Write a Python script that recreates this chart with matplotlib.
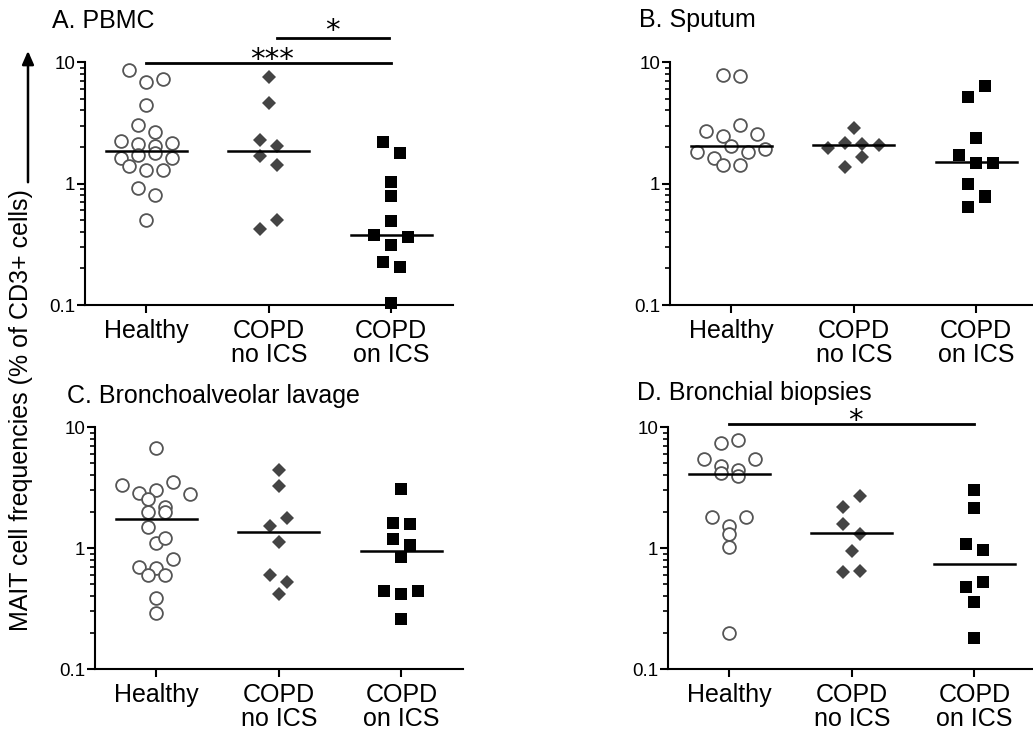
import numpy as np
import matplotlib
matplotlib.use('Agg')
import matplotlib.pyplot as plt
from matplotlib.ticker import LogLocator, NullFormatter

plt.rcParams['font.family'] = ['Liberation Sans', 'DejaVu Sans']

categories = ['Healthy', 'COPD\nno ICS', 'COPD\non ICS']

# values, listed roughly left to right inside each row
pbmc_healthy = [8.55, 6.87, 7.31, 4.42, 3.04, 2.64, 2.25, 2.12, 2.02, 2.15,
                1.62, 1.73, 1.78, 1.62, 1.40, 1.30, 1.30, 0.91, 0.80, 0.50]
pbmc_no_ics = [7.54, 4.56, 2.29, 2.02, 1.67, 1.43, 0.42, 0.50]
pbmc_on_ics = [2.18, 1.78, 1.03, 0.79, 0.49, 0.376, 0.311, 0.364, 0.224, 0.207, 0.103]
pbmc_medians = [1.84, 1.86, 0.376]

sputum_healthy = [7.78, 7.64, 2.73, 2.44, 3.04, 2.55, 1.81, 1.62, 2.02, 1.81, 1.92, 1.41, 1.41]
sputum_no_ics = [2.85, 1.96, 2.15, 2.11, 2.06, 1.37, 1.65]
sputum_on_ics = [5.18, 6.32, 2.36, 1.73, 1.48, 1.48, 0.99, 0.79, 0.64, 0.78]
sputum_medians = [2.04, 2.06, 1.49]

bal_healthy = [6.7, 3.32, 2.86, 3.02, 3.51, 2.81, 2.53, 2.18, 2.0, 2.0,
               1.50, 1.11, 1.22, 0.70, 0.69, 0.81, 0.60, 0.60, 0.39, 0.29]
bal_no_ics = [4.41, 3.25, 1.52, 1.78, 1.13, 0.60, 0.52, 0.42]
bal_on_ics = [3.05, 1.62, 1.57, 1.18, 1.06, 0.84, 0.44, 0.42, 0.44, 0.26]
bal_medians = [1.75, 1.36, 0.94]

biopsy_healthy = [7.38, 7.86, 5.41, 4.73, 4.44, 5.47, 4.20, 3.91, 1.80, 1.52, 1.80, 1.31, 1.02, 0.20]
biopsy_no_ics = [2.17, 2.68, 1.57, 1.31, 0.94, 0.63, 0.65]
biopsy_on_ics = [3.0, 2.15, 1.09, 0.96, 0.48, 0.52, 0.36, 0.18]
biopsy_medians = [4.11, 1.33, 0.74]

styles = [dict(marker='o', ms=9.2, mfc='white', mec='#555555', mew=1.3),
          dict(marker='D', ms=6.8, mfc='#444444', mec='#444444', mew=0),
          dict(marker='s', ms=8.0, mfc='black', mec='black', mew=0)]

fig = plt.figure(figsize=(10.33, 7.4), dpi=100)


def swarm_x(ax, xc, vals, step=17, thr=12):
    # group points of nearly equal height into rows and centre each row
    vals = np.asarray(vals, float)
    pts = ax.transData.transform(np.column_stack([np.full(len(vals), xc), vals]))
    ypx = pts[:, 1]
    order = np.argsort(-vals, kind='stable')
    rows = []
    for i in order:
        if rows and ypx[rows[-1][0]] - ypx[i] < thr:
            rows[-1].append(i)
        else:
            rows.append([i])
    off = np.zeros(len(vals))
    for r in rows:
        r = sorted(r)
        for j, i in enumerate(r):
            off[i] = (j - (len(r) - 1) / 2) * step
    lo, hi = ax.get_xlim()
    return xc + off / (ax.bbox.width / (hi - lo))


def panel(rect, title, tpos, groups, medians, bars=()):
    ax = fig.add_axes(rect)
    ax.set_yscale('log')
    ax.set_ylim(0.1, 10)
    ax.set_xlim(-0.5, 2.5)
    for sp in ['top', 'right']:
        ax.spines[sp].set_visible(False)
    for sp in ['left', 'bottom']:
        ax.spines[sp].set_linewidth(1.5)
    ax.set_yticks([0.1, 1, 10])
    ax.set_yticklabels(['0.1', '1', '10'], fontsize=13.5)
    ax.yaxis.set_minor_locator(LogLocator(base=10, subs=np.arange(2, 10)))
    ax.yaxis.set_minor_formatter(NullFormatter())
    ax.tick_params(axis='y', which='major', length=6, width=1.5, pad=1)
    ax.tick_params(axis='y', which='minor', length=3.5, width=1.2)
    ax.set_xticks([0, 1, 2])
    ax.set_xticklabels(categories, fontsize=18, linespacing=1.0)
    ax.tick_params(axis='x', length=6, width=1.5, pad=4)

    for i, vals in enumerate(groups):
        xs = swarm_x(ax, i, vals)
        ax.plot(xs, vals, ls='none', clip_on=False, zorder=3, **styles[i])
        ax.plot([i - 0.33, i + 0.33], [medians[i], medians[i]], color='black',
                lw=1.8, zorder=4, clip_on=False)

    for x0, x1, y, label, lx, ly in bars:
        ax.plot([x0, x1], [y, y], color='black', lw=2, clip_on=False)
        # the asterisk sits high in its em box: drop the baseline below the target
        ax.annotate(label, xy=(lx, ly), xytext=(0, -11.5), textcoords='offset points',
                    fontsize=21, family='DejaVu Sans', ha='center', va='baseline',
                    annotation_clip=False)

    fig.text(tpos[0], tpos[1], title, fontsize=18, ha='left', va='baseline')
    return ax


panel([0.0823, 0.5878, 0.3558, 0.3284], 'A. PBMC', (0.050, 0.962),
      [pbmc_healthy, pbmc_no_ics, pbmc_on_ics], pbmc_medians,
      bars=[(0, 2, 9.8, '***', 1.03, 12.0), (1.07, 1.98, 15.8, '*', 1.52, 21.1)])
panel([0.6486, 0.5878, 0.3558, 0.3284], 'B. Sputum', (0.6186, 0.9635),
      [sputum_healthy, sputum_no_ics, sputum_on_ics], sputum_medians)
panel([0.0920, 0.0959, 0.3558, 0.3270], 'C. Bronchoalveolar lavage', (0.0649, 0.4554),
      [bal_healthy, bal_no_ics, bal_on_ics], bal_medians)
panel([0.6467, 0.0959, 0.3558, 0.3270], 'D. Bronchial biopsies', (0.6167, 0.4595),
      [biopsy_healthy, biopsy_no_ics, biopsy_on_ics], biopsy_medians,
      bars=[(0, 2, 10.5, '*', 1.03, 13.1)])

fig.text(0.0203, 0.446, 'MAIT cell frequencies (% of CD3+ cells)', fontsize=18,
         rotation=90, ha='center', va='center')
fig.add_artist(matplotlib.patches.FancyArrowPatch(
    (0.0271, 0.75), (0.0271, 0.935), transform=fig.transFigure,
    arrowstyle='-|>,head_length=8,head_width=3.5', lw=1.8, color='black',
    mutation_scale=1))

fig.savefig('out.png', dpi=100)
